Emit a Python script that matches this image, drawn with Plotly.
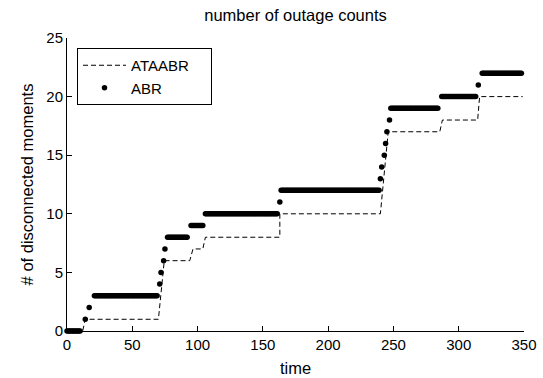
import plotly.graph_objects as go

# ---- data ----
# ABR: each count level is held over a range of sample times (start..end, inclusive)
abr_levels = [0, 1, 2, 3, 4, 5, 6, 7, 8, 9, 10, 11, 12, 13, 14, 15, 16, 17, 18, 19, 20, 21, 22]
abr_start  = [0, 14, 17, 21, 71, 72, 74, 75, 77, 95, 106, 163, 164, 240, 241, 243, 244, 245, 247, 248, 287, 315, 318]
abr_end    = [10, 14, 17, 69, 71, 72, 74, 75, 92, 104, 161, 163, 239, 240, 241, 243, 244, 245, 247, 284, 313, 315, 348]

# ATAABR: dashed polyline breakpoints
ataabr_t = [0, 12, 14, 70, 74.5, 94, 96.5, 104, 106, 163, 163, 240, 246, 285.5, 287.5, 314.5, 316, 349]
ataabr_v = [0, 0, 1, 1, 6, 6, 7, 7, 8, 8, 10, 10, 17, 17, 18, 18, 20, 20]

x_ticks = [0, 50, 100, 150, 200, 250, 300, 350]
y_ticks = [0, 5, 10, 15, 20, 25]

abr_t, abr_y = [], []
for lv, s, e in zip(abr_levels, abr_start, abr_end):
    for t in range(s, e + 1):
        abr_t.append(t)
        abr_y.append(lv)

FONT = "Liberation Sans, Arial, sans-serif"
FS = 15
FT = 16.5
PAD = "\u00a0" * 4  # widen the legend box like the reference

fig = go.Figure()
fig.add_trace(go.Scatter(
    x=ataabr_t, y=ataabr_v, mode="lines", name="ATAABR" + PAD,
    line=dict(color="black", width=1, dash="5px,3px"), cliponaxis=False))
fig.add_trace(go.Scatter(
    x=abr_t, y=abr_y, mode="markers", name="ABR",
    marker=dict(color="black", size=5.5, line=dict(width=0)), cliponaxis=False))

W, H = 543, 378
ml, mr, mt, mb = 67, 19, 38, 47
fig.update_layout(
    width=W, height=H,
    margin=dict(l=ml, r=mr, t=mt, b=mb, autoexpand=False),
    paper_bgcolor="white", plot_bgcolor="white",
    font=dict(family=FONT, size=FS, color="black"),
    title=dict(text="number of outage counts", x=0.5, xref="paper", xanchor="center",
               y=1 - 15 / H, yref="container", yanchor="middle",
               font=dict(family=FONT, size=FT, color="black")),
    legend=dict(x=(77 - ml) / (W - ml - mr), y=(H - mb - 48) / (H - mt - mb),
                xanchor="left", yanchor="top", bordercolor="black", borderwidth=1,
                bgcolor="white", font=dict(family=FONT, size=15, color="black"),
                tracegroupgap=0, itemwidth=43),
    showlegend=True,
)
fig.update_xaxes(range=[0, 350], tickvals=x_ticks, ticks="inside", ticklen=5,
                 tickcolor="black", showline=True, linecolor="black", linewidth=1,
                 mirror=False, showgrid=False, zeroline=False, automargin=False,
                 title=dict(text="time", standoff=10, font=dict(size=FT)),
                 tickfont=dict(size=FS))
fig.update_yaxes(range=[0, 25], tickvals=y_ticks, ticks="inside", ticklen=5,
                 tickcolor="black", showline=True, linecolor="black", linewidth=1,
                 mirror=False, showgrid=False, zeroline=False, automargin=False,
                 title=dict(text="# of disconnected moments", standoff=8, font=dict(size=FT)),
                 tickfont=dict(size=FS))

fig.write_html("out.html")
